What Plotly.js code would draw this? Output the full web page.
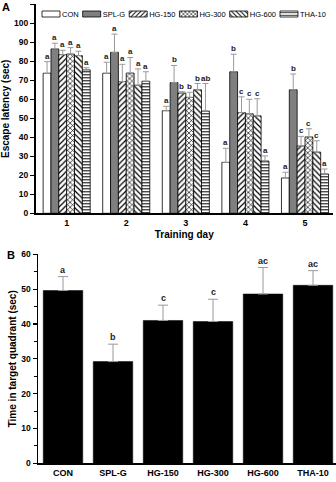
<!DOCTYPE html>
<html>
<head>
<meta charset="utf-8">
<script src="https://cdn.plot.ly/plotly-3.0.1.min.js"></script>
<style>
  html, body { margin: 0; padding: 0; background: #fff; }
  #chart { width: 336px; height: 482px; }
</style>
</head>
<body>
<div id="chart"></div>
<script>
// ---- Panel A: escape latency per training day ----
const days = [1, 2, 3, 4, 5];
const groups = ['CON', 'SPL-G', 'HG-150', 'HG-300', 'HG-600', 'THA-10'];

const latCON    = [73.7, 73.7, 54.0, 26.8, 18.6];
const latSPLG   = [86.5, 84.7, 68.8, 74.5, 65.0];
const latHG150  = [83.5, 69.3, 63.3, 53.0, 35.4];
const latHG300  = [83.8, 73.8, 61.0, 52.4, 40.2];
const latHG600  = [83.0, 67.4, 65.0, 51.3, 32.2];
const latTHA10  = [75.5, 69.5, 53.8, 27.5, 20.7];

const semCON    = [6.1, 5.8, 2.3, 7.4, 3.0];
const semSPLG   = [3.0, 9.6, 9.0, 9.2, 8.3];
const semHG150  = [2.3, 9.1, 0.7, 8.3, 5.1];
const semHG300  = [3.4, 8.2, 2.7, 7.6, 4.3];
const semHG600  = [2.3, 8.6, 3.3, 9.0, 6.0];
const semTHA10  = [1.1, 5.0, 14.5, 2.7, 2.6];

const sigCON    = ['a', 'a', 'a', 'a', 'a'];
const sigSPLG   = ['a', 'a', 'b', 'b', 'b'];
const sigHG150  = ['a', 'a', 'b', 'c', 'c'];
const sigHG300  = ['a', 'a', 'b', 'c', 'c'];
const sigHG600  = ['a', 'a', 'b', 'c', 'c'];
const sigTHA10  = ['a', 'a', 'ab', 'a', 'a'];

// ---- Panel B: probe trial ----
const quadrant    = [49.6, 29.2, 41.0, 40.7, 48.6, 51.1];
const quadrantSem = [4.0, 5.0, 4.4, 6.4, 7.6, 4.2];
const quadrantSig = ['a', 'b', 'c', 'c', 'ac', 'ac'];

const latency = [latCON, latSPLG, latHG150, latHG300, latHG600, latTHA10];
const latSem  = [semCON, semSPLG, semHG150, semHG300, semHG600, semTHA10];
const latSig  = [sigCON, sigSPLG, sigHG150, sigHG300, sigHG600, sigTHA10];

// fill style of each group
const fills = [
  { color: '#ffffff' },
  { color: '#7f7f7f' },
  { color: '#ffffff', pattern: { shape: '/', size: 4, solidity: 0.3 } },
  { color: '#ffffff', pattern: { shape: 'x', size: 3.5, solidity: 0.35 } },
  { color: '#ffffff', pattern: { shape: '\\', size: 4, solidity: 0.3 } },
  { color: '#ffffff', pattern: { shape: '-', size: 3, solidity: 0.35 } }
];

const FONT = 'Arial, "Liberation Sans", Helvetica, sans-serif';
const ERR_COLOR = '#9a9a9a';
const BARGAP_A = 0.21;

const traces = [];
const annotations = [];

groups.forEach((name, i) => {
  const f = fills[i];
  const marker = { color: f.color, line: { color: '#000', width: 0.8 } };
  if (f.pattern) {
    marker.pattern = Object.assign({ fgcolor: '#000', bgcolor: '#fff', fillmode: 'replace' }, f.pattern);
  }
  traces.push({
    type: 'bar', name: name, x: days, y: latency[i],
    xaxis: 'x', yaxis: 'y', marker: marker,
    error_y: {
      type: 'data', symmetric: false, array: latSem[i],
      arrayminus: latSem[i].map(() => 0),
      color: ERR_COLOR, thickness: 1, width: 3
    },
    hoverinfo: 'skip'
  });
  // significance letters above each error bar
  const w = (1 - BARGAP_A) / groups.length;
  days.forEach((d, k) => {
    annotations.push({
      xref: 'x', yref: 'y',
      x: d + (i - (groups.length - 1) / 2) * w,
      y: latency[i][k] + latSem[i][k],
      text: latSig[i][k], showarrow: false,
      yanchor: 'bottom', yshift: -1,
      font: { family: FONT, size: 8, color: '#222', weight: 'bold' }
    });
  });
});

traces.push({
  type: 'bar', name: 'probe', x: groups, y: quadrant,
  xaxis: 'x2', yaxis: 'y2', showlegend: false,
  marker: { color: '#000', line: { color: '#000', width: 0.5 } },
  error_y: {
    type: 'data', symmetric: false, array: quadrantSem,
    arrayminus: quadrantSem.map(() => 0),
    color: ERR_COLOR, thickness: 1, width: 5
  },
  hoverinfo: 'skip'
});
groups.forEach((g, i) => {
  annotations.push({
    xref: 'x2', yref: 'y2', x: g, y: quadrant[i] + quadrantSem[i],
    text: quadrantSig[i], showarrow: false, yanchor: 'bottom', yshift: 0,
    font: { family: FONT, size: 9, color: '#222', weight: 'bold' }
  });
});

// panel letters
annotations.push({
  xref: 'paper', yref: 'paper', x: -35 / 301, y: 1.003, xanchor: 'left', yanchor: 'top',
  text: 'A', showarrow: false, font: { family: FONT, size: 11, weight: 'bold', color: '#000' }
});
annotations.push({
  xref: 'paper', yref: 'paper', x: -30 / 301, y: 1 - 247 / 482, xanchor: 'left', yanchor: 'top',
  text: 'B', showarrow: false, font: { family: FONT, size: 11, weight: 'bold', color: '#000' }
});

const axisLine = { showline: true, linecolor: '#000', linewidth: 1.5, showgrid: false, zeroline: false, automargin: false };
const tickFont = { family: FONT, size: 8.5, color: '#000', weight: 'bold' };

const layout = {
  width: 336, height: 482,
  margin: { l: 35, r: 0, t: 0, b: 0, autoexpand: false },
  paper_bgcolor: '#fff', plot_bgcolor: 'rgba(0,0,0,0)',
  font: { family: FONT, color: '#000' },
  barmode: 'group', bargap: BARGAP_A, bargroupgap: 0,
  showlegend: true,
  legend: {
    orientation: 'h', x: 0.02, y: 1, xanchor: 'left', yanchor: 'top',
    bgcolor: 'rgba(0,0,0,0)', borderwidth: 0,
    font: { family: FONT, size: 7.5, color: '#000' }
  },
  xaxis: Object.assign({}, axisLine, {
    domain: [0.5 / 301, 298 / 301], range: [0.477, 5.47],
    tickvals: days, ticktext: days.map(String), ticks: '',
    tickfont: Object.assign({}, tickFont, { size: 9 }),
    title: { text: 'Training day', font: { family: FONT, size: 10, weight: 'bold' }, standoff: 4 },
    anchor: 'y', fixedrange: true
  }),
  yaxis: Object.assign({}, axisLine, {
    domain: [1 - 213.3 / 482, 1 - 4.3 / 482], range: [0, 110], dtick: 10,
    ticks: 'outside', ticklen: 4, tickwidth: 1.2, tickcolor: '#000',
    tickfont: tickFont,
    title: { text: 'Escape latency (sec)', font: { family: FONT, size: 10, weight: 'bold' }, standoff: 3 },
    anchor: 'x', fixedrange: true
  }),
  xaxis2: Object.assign({}, axisLine, {
    domain: [3 / 301, 1], range: [-0.5, 5.46], type: 'category',
    ticks: '', tickfont: Object.assign({}, tickFont, { size: 9 }),
    anchor: 'y2', fixedrange: true
  }),
  yaxis2: Object.assign({}, axisLine, {
    domain: [1 - 463.3 / 482, 1 - 254.3 / 482], range: [0, 60], dtick: 10,
    ticks: 'outside', ticklen: 4, tickwidth: 1.2, tickcolor: '#000',
    minor: { dtick: 5, ticks: 'outside', ticklen: 2.5, tickwidth: 1, tickcolor: '#000' },
    tickfont: tickFont,
    title: { text: 'Time in target quadrant (sec)', font: { family: FONT, size: 10, weight: 'bold' }, standoff: 3 },
    anchor: 'x2', fixedrange: true
  }),
  annotations: annotations
};

// Compact one-row legend with wide flat swatches
function compactLegend(gd) {
  const items = Array.from(gd.querySelectorAll('.legend .traces'));
  if (!items.length) return;
  const gap = 4, swW = 18, swH = 6, textOff = 20;
  let x = 0;
  items.forEach((g) => {
    const sym = g.querySelectorAll('.legendpoints path');
    sym.forEach((p) => {
      p.setAttribute('d', `M0,${-swH / 2}H${swW}V${swH / 2}H0Z`);
      p.setAttribute('transform', 'translate(0,0)');
    });
    const t = g.querySelector('text.legendtext');
    if (t) t.setAttribute('x', textOff);
    const tw = t ? t.getComputedTextLength() : 20;
    g.setAttribute('transform', `translate(${x},0)`);
    const toggle = g.querySelector('rect.legendtoggle');
    if (toggle) { toggle.setAttribute('x', 0); toggle.setAttribute('width', textOff + tw); }
    x += textOff + tw + gap;
  });
  // anchor the first swatch at its place in the figure
  const first = items[0].querySelector('.legendpoints path');
  if (!first) return;
  const r = first.getBoundingClientRect();
  const host = gd.getBoundingClientRect();
  const dx = 42 - (r.left - host.left);
  const dy = 14 - ((r.top + r.bottom) / 2 - host.top);
  const box = gd.querySelector('.legend .groups') || gd.querySelector('.legend .scrollbox');
  const prev = box.getAttribute('transform') || '';
  box.setAttribute('transform', `translate(${dx},${dy}) ` + prev);
}

Plotly.newPlot('chart', traces, layout, { displayModeBar: false, staticPlot: true })
  .then((gd) => compactLegend(gd));
</script>
</body>
</html>
